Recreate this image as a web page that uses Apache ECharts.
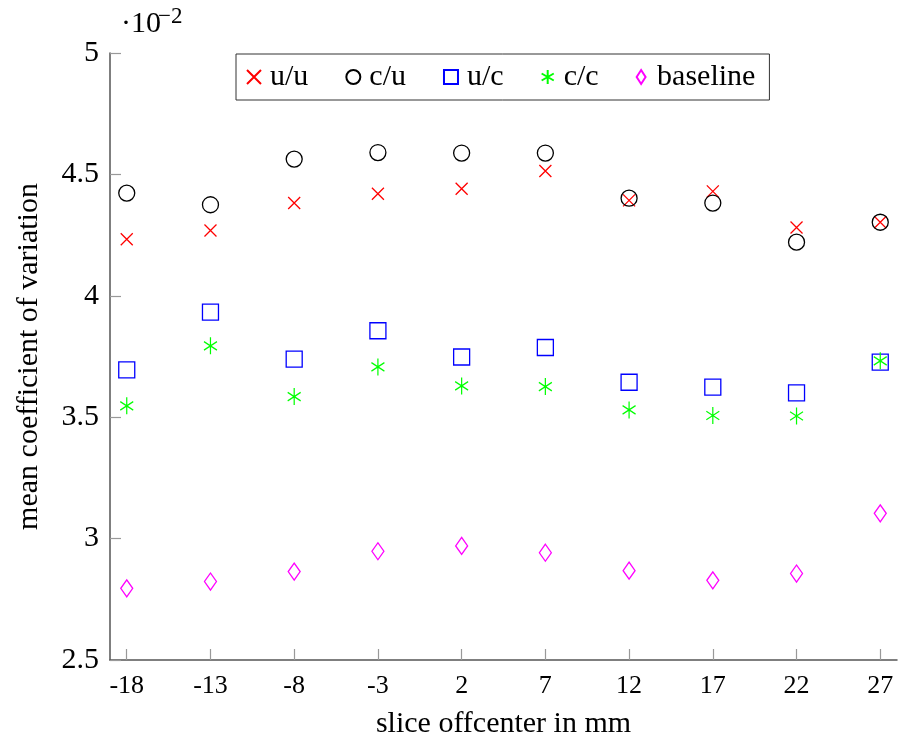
<!DOCTYPE html>
<html>
<head>
<meta charset="utf-8">
<script src="https://cdn.jsdelivr.net/npm/echarts@6/dist/echarts.min.js"></script>
<style>
  html, body { margin: 0; padding: 0; background: #fff; }
  #chart { width: 899px; height: 742px; }
</style>
</head>
<body>
<div id="chart"></div>
<script>
// Slice offsets (mm) and mean coefficient of variation (×10^-2) per configuration
const offsets = [-18, -13, -8, -3, 2, 7, 12, 17, 22, 27];
const uu = [4.233, 4.269, 4.382, 4.420, 4.441, 4.514, 4.393, 4.430, 4.281, 4.303];
const cu = [4.423, 4.375, 4.563, 4.590, 4.588, 4.588, 4.402, 4.382, 4.221, 4.303];
const uc = [3.695, 3.933, 3.739, 3.856, 3.748, 3.787, 3.644, 3.624, 3.600, 3.727];
const cc = [3.547, 3.794, 3.585, 3.707, 3.629, 3.626, 3.530, 3.507, 3.505, 3.732];
const baseline = [2.795, 2.823, 2.864, 2.948, 2.970, 2.942, 2.868, 2.828, 2.856, 3.104];
const seriesNames = ['u/u', 'c/u', 'u/c', 'c/c', 'baseline'];
const yTicks = [2.5, 3, 3.5, 4, 4.5, 5];

const FONT = '"Liberation Serif", "DejaVu Serif", serif';

// Open marker shapes
const CROSS = 'path://M0,0L10,10M0,10L10,0';
const SQUARE = 'path://M0,0L10,0L10,10L0,10Z';
const ASTERISK = 'path://M8.66,0L8.66,20M0,5L17.32,15M0,15L17.32,5';
const DIAMOND_ICON = 'path://M7,0L14,11L7,22L0,11Z';

function pts(values) {
  return offsets.map((x, i) => [x, values[i]]);
}

function scatter(name, values, symbol, size, color, keepAspect) {
  return {
    name: name,
    type: 'scatter',
    data: pts(values),
    symbol: symbol,
    symbolSize: size,
    symbolKeepAspect: keepAspect,
    itemStyle: { color: 'transparent', borderColor: color, borderWidth: 1.3, opacity: 1 },
    emphasis: { disabled: true },
    z: 3
  };
}

const chart = echarts.init(document.getElementById('chart'), null, { renderer: 'canvas' });

chart.setOption({
  animation: false,
  backgroundColor: '#fff',
  grid: { left: 110, right: 2, top: 53, bottom: 82, containLabel: false, outerBoundsMode: 'none' },
  legend: {
    left: 236,
    top: 54,
    orient: 'horizontal',
    padding: [8, 14, 8, 10],
    itemGap: 37,
    itemWidth: 18,
    itemHeight: 14,
    borderColor: '#333',
    borderWidth: 1,
    selectedMode: false,
    textStyle: { fontFamily: FONT, fontSize: 30, color: '#000', padding: [0, 0, 0, 2] },
    data: [
      { name: seriesNames[0], icon: CROSS },
      { name: seriesNames[1], icon: 'circle' },
      { name: seriesNames[2], icon: SQUARE },
      { name: seriesNames[3], icon: ASTERISK },
      { name: seriesNames[4], icon: DIAMOND_ICON }
    ]
  },
  xAxis: {
    type: 'value',
    min: -19,
    max: 28,
    name: 'slice offcenter in mm',
    nameLocation: 'middle',
    nameGap: 49,
    nameTextStyle: { fontFamily: FONT, fontSize: 30, color: '#000' },
    splitLine: { show: false },
    axisLine: { show: true, onZero: false, lineStyle: { color: '#555', width: 1.5 } },
    axisTick: { show: true, inside: true, length: 11, customValues: offsets, lineStyle: { color: '#999', width: 1.2 } },
    axisLabel: {
      customValues: offsets,
      fontFamily: FONT, fontSize: 26, color: '#000', margin: 13,
      formatter: v => String(v)
    }
  },
  yAxis: {
    type: 'value',
    min: 2.5,
    max: 5,
    interval: 0.5,
    name: 'mean coefficient of variation',
    nameLocation: 'middle',
    nameGap: 66,
    nameRotate: 90,
    nameTextStyle: { fontFamily: FONT, fontSize: 30, color: '#000' },
    splitLine: { show: false },
    axisLine: { show: true, onZero: false, lineStyle: { color: '#555', width: 1.5 } },
    axisTick: { show: true, inside: true, length: 11, lineStyle: { color: '#999', width: 1.2 } },
    axisLabel: {
      fontFamily: FONT, fontSize: 30, color: '#000', margin: 11,
      showMinLabel: true, showMaxLabel: true,
      formatter: v => String(yTicks.find(t => Math.abs(t - v) < 1e-9) ?? v)
    }
  },
  graphic: [
    {
      type: 'text', left: 121, top: 9,
      style: { text: '·10', font: '30px ' + FONT, fill: '#000' }
    },
    {
      type: 'text', left: 158, top: 5,
      style: { text: '−2', font: '23px ' + FONT, fill: '#000' }
    }
  ],
  series: [
    scatter(seriesNames[0], uu, CROSS, 12, '#ff0000', true),
    scatter(seriesNames[1], cu, 'circle', 16, '#000000', true),
    scatter(seriesNames[2], uc, SQUARE, 16, '#0000ff', true),
    scatter(seriesNames[3], cc, ASTERISK, [15, 17], '#00ff00', true),
    scatter(seriesNames[4], baseline, 'diamond', [12, 17], '#ff00ff', false)
  ]
});
</script>
</body>
</html>
